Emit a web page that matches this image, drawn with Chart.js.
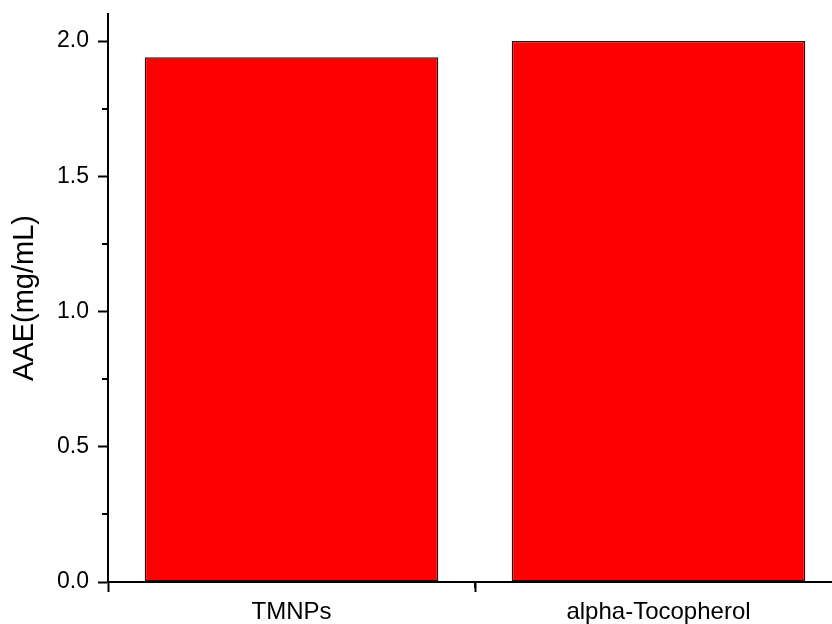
<!DOCTYPE html>
<html>
<head>
<meta charset="utf-8">
<script src="https://cdn.jsdelivr.net/npm/chart.js@4"></script>
<style>
  html, body { margin: 0; padding: 0; background: #fff; overflow: hidden; }
  #wrap { width: 845px; height: 624px; }
</style>
</head>
<body>
<div id="wrap"><canvas id="chartAAE"></canvas></div>
<script>
const categories = ['TMNPs', 'alpha-Tocopherol'];
const aaeValues = [1.94, 2.0];
const yMajorTicks = [0.0, 0.5, 1.0, 1.5, 2.0];
const yMinorTicks = [0.25, 0.75, 1.25, 1.75];
const xMinorTicks = [0.5];

// minor ticks drawn from the scales (Chart.js has no minor ticks)
const minorTicks = {
    id: 'minorTicks',
    afterDraw(chart) {
        const c = chart.ctx;
        const x = chart.scales.x, y = chart.scales.y;
        c.save();
        c.strokeStyle = '#000';
        c.lineWidth = 2;
        yMinorTicks.forEach(v => {
            const py = Math.round(y.getPixelForValue(v));
            c.beginPath();
            c.moveTo(x.left - 6, py);
            c.lineTo(x.left, py);
            c.stroke();
        });
        xMinorTicks.forEach(v => {
            const px = Math.round(x.getPixelForValue(v));
            c.beginPath();
            c.moveTo(px, y.bottom);
            c.lineTo(px, y.bottom + 6);
            c.stroke();
        });
        c.restore();
    }
};

const ctx = document.getElementById('chartAAE').getContext('2d');
const chartAAE = new Chart(ctx, {
    type: 'bar',
    data: {
        labels: categories,
        datasets: [{
            label: 'AAE',
            data: aaeValues,
            backgroundColor: '#ff0000',
            borderColor: '#2a1010',
            borderWidth: 1.5,
            borderSkipped: false,
            barPercentage: 0.8,
            categoryPercentage: 1.0
        }]
    },
    options: {
        responsive: true,
        maintainAspectRatio: false,
        animation: false,
        layout: { padding: { top: 14, right: 3, left: 0, bottom: 0 } },
        plugins: {
            legend: { display: false },
            tooltip: { enabled: false }
        },
        scales: {
            x: {
                grid: { drawOnChartArea: false, drawTicks: true, tickLength: 10, tickWidth: 2, tickColor: '#000' },
                border: { color: '#000', width: 2 },
                ticks: {
                    color: '#000',
                    padding: 6,
                    font: { family: 'Liberation Sans, Arial', size: 24 }
                },
                afterFit(scale) { scale.height = 42; }
            },
            y: {
                min: 0,
                max: 2.1,
                grid: { drawOnChartArea: false, drawTicks: true, tickLength: 10, tickWidth: 2, tickColor: '#000' },
                border: { color: '#000', width: 2 },
                afterBuildTicks(scale) {
                    scale.ticks = yMajorTicks.map(v => ({ value: v }));
                },
                ticks: {
                    color: '#000',
                    padding: 9,
                    font: { family: 'Liberation Sans, Arial', size: 23 },
                    callback: v => v.toFixed(1)
                },
                title: {
                    display: true,
                    text: 'AAE(mg/mL)',
                    color: '#000',
                    padding: { top: 8, bottom: 0 },
                    font: { family: 'Liberation Sans, Arial', size: 29 }
                },
                afterFit(scale) {
                    scale.width = 108;
                    scale.paddingTop = 0;
                    scale.paddingBottom = 0;
                }
            }
        }
    },
    plugins: [minorTicks]
});
</script>
</body>
</html>
